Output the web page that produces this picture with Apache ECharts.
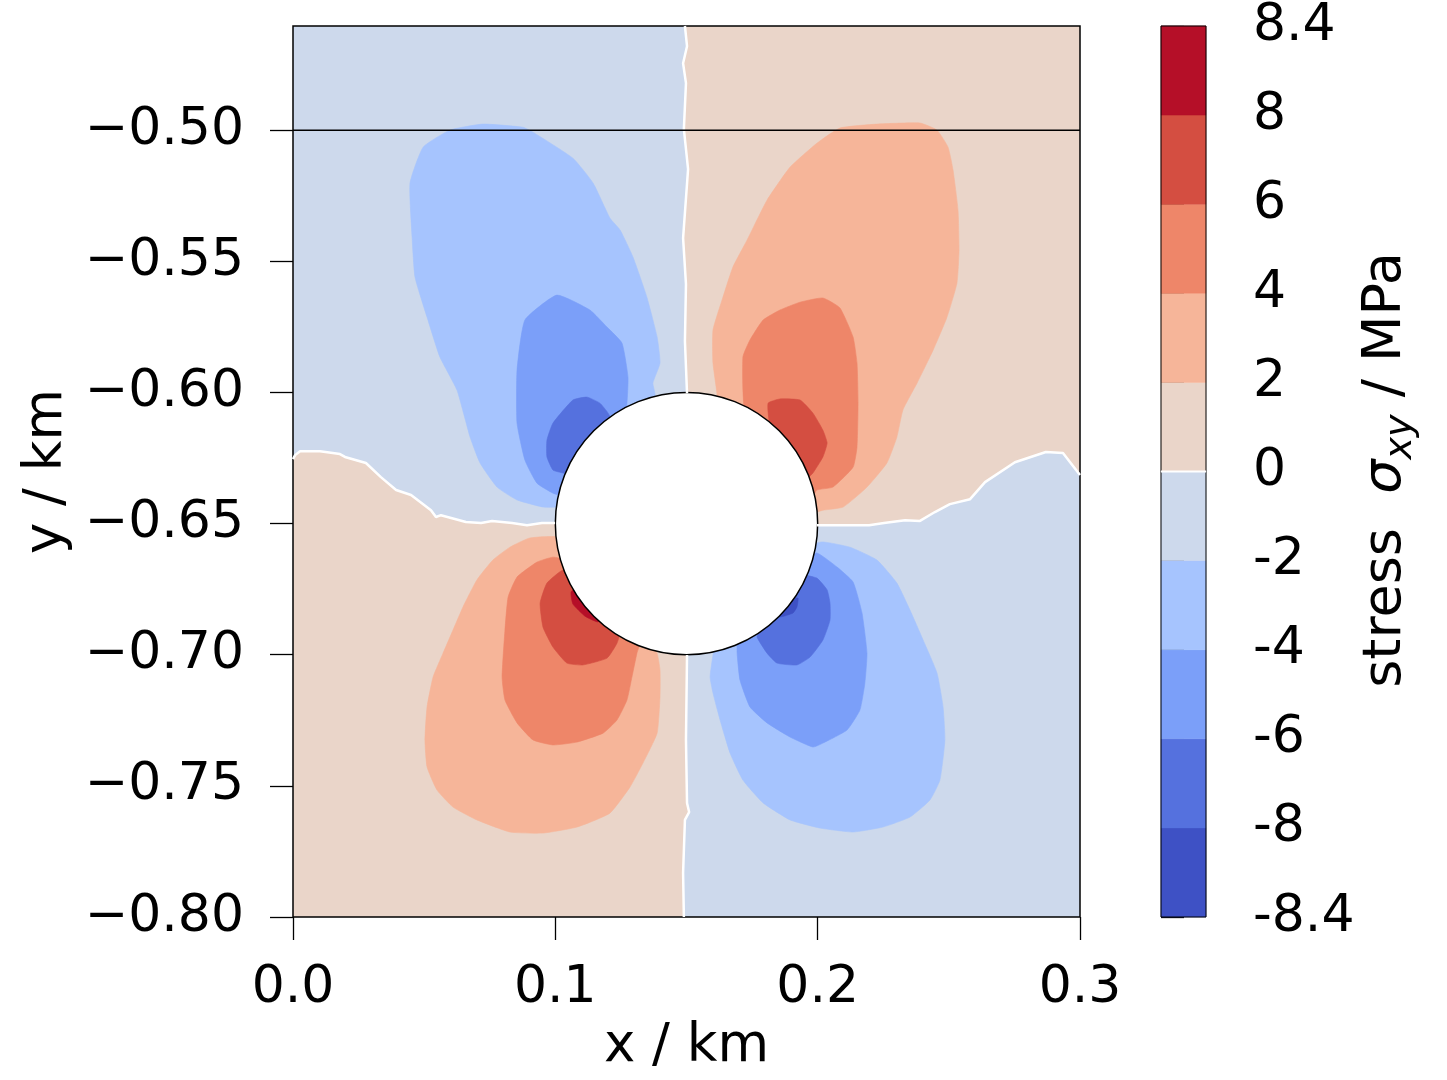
<!DOCTYPE html>
<html>
<head>
<meta charset="utf-8">
<script src="https://cdn.jsdelivr.net/npm/echarts@6/dist/echarts.min.js"></script>
<style>html,body{margin:0;padding:0;background:#fff}#chart{width:1447px;height:1080px}</style>
</head>
<body>
<div id="chart"></div>
<script>
// ---------- data (km, MPa) ----------
const X_RANGE = [0, 0.3];
const Y_RANGE = [-0.8, -0.4603];
const X_TICKS = [0, 0.1, 0.2, 0.3];
const Y_TICKS = [-0.8, -0.75, -0.7, -0.65, -0.6, -0.55, -0.5];
const LEVELS = [-8.4, -8, -6, -4, -2, 0, 2, 4, 6, 8, 8.4];
const CB_TICK_LABELS = ['-8.4', '-8', '-6', '-4', '-2', '0', '2', '4', '6', '8', '8.4'];
const LEVEL_COLORS = ['#3e51c5', '#5571de', '#7b9ff9', '#a6c4fe', '#cdd9ec', '#ead5c9', '#f6b599', '#ee8669', '#d44e41', '#b50f28'];
const HOLE = [0.15, -0.65, 0.05]; // centre x, centre y, radius
const MARKER_Y = -0.5;

// zero contours
const Z_TOP = [[0.1494,-0.4603],[0.1502,-0.4680],[0.1487,-0.4745],[0.1498,-0.4821],[0.1490,-0.4996],[0.1506,-0.5149],[0.1487,-0.5412],[0.1498,-0.5587],[0.1494,-0.5804],[0.1502,-0.6003]];
const Z_BOT = [[0.1502,-0.7001],[0.1498,-0.7325],[0.1502,-0.7565],[0.1510,-0.7600],[0.1494,-0.7630],[0.1487,-0.7832],[0.1490,-0.8000]];
const Z_LEFT = [[0,-0.6254],[0.0008,-0.6239],[0.0027,-0.6224],[0.0103,-0.6224],[0.0179,-0.6235],[0.0198,-0.6246],[0.0278,-0.6269],[0.0335,-0.6323],[0.0393,-0.6372],[0.0450,-0.6391],[0.0526,-0.6449],[0.0545,-0.6475],[0.0564,-0.6468],[0.0659,-0.6494],[0.0717,-0.6498],[0.0759,-0.6490],[0.0835,-0.6498],[0.0892,-0.6506],[0.0949,-0.6498],[0.0999,-0.6498]];
const Z_RIGHT = [[0.1997,-0.6506],[0.2100,-0.6506],[0.2196,-0.6506],[0.2253,-0.6498],[0.2333,-0.6487],[0.2390,-0.6490],[0.2447,-0.6456],[0.2504,-0.6426],[0.2581,-0.6407],[0.2638,-0.6342],[0.2752,-0.6266],[0.2870,-0.6227],[0.2935,-0.6231],[0.3000,-0.6315]];

// filled contour bands (outlines)
const LB_TL = [[0.0446,-0.5202],[0.0496,-0.5065],[0.0598,-0.5000],[0.0724,-0.4977],[0.0877,-0.4989],[0.0915,-0.5008],[0.1067,-0.5107],[0.1144,-0.5202],[0.1208,-0.5335],[0.1247,-0.5381],[0.1296,-0.5484],[0.1349,-0.5637],[0.1388,-0.5789],[0.1399,-0.5888],[0.1372,-0.5964],[0.1380,-0.6010],[0.1323,-0.6220],[0.1056,-0.6429],[0.1006,-0.6437],[0.0953,-0.6437],[0.0854,-0.6410],[0.0778,-0.6361],[0.0713,-0.6269],[0.0675,-0.6170],[0.0625,-0.5991],[0.0560,-0.5865],[0.0511,-0.5713],[0.0465,-0.5560],[0.0454,-0.5408]];
const MB_TL = [[0.1006,-0.5629],[0.1132,-0.5686],[0.1197,-0.5751],[0.1254,-0.5812],[0.1277,-0.5942],[0.1273,-0.6041],[0.1247,-0.6258],[0.1094,-0.6410],[0.1044,-0.6399],[0.0991,-0.6384],[0.0930,-0.6346],[0.0884,-0.6258],[0.0854,-0.6117],[0.0854,-0.5915],[0.0884,-0.5724]];
const DB_TL = [[0.1121,-0.6018],[0.1170,-0.6041],[0.1201,-0.6079],[0.1323,-0.6296],[0.1170,-0.6334],[0.1029,-0.6307],[0.0991,-0.6296],[0.0968,-0.6246],[0.0968,-0.6182],[0.0991,-0.6117],[0.1067,-0.6029]];
const SA_TR = [[0.1616,-0.6037],[0.1616,-0.6003],[0.1601,-0.5888],[0.1601,-0.5762],[0.1639,-0.5637],[0.1677,-0.5522],[0.1731,-0.5419],[0.1807,-0.5267],[0.1895,-0.5141],[0.1997,-0.5050],[0.2085,-0.4992],[0.2226,-0.4977],[0.2390,-0.4973],[0.2455,-0.5000],[0.2497,-0.5065],[0.2516,-0.5152],[0.2535,-0.5305],[0.2539,-0.5457],[0.2531,-0.5583],[0.2493,-0.5713],[0.2440,-0.5839],[0.2379,-0.5964],[0.2325,-0.6067],[0.2302,-0.6170],[0.2264,-0.6269],[0.2188,-0.6361],[0.2097,-0.6437],[0.2020,-0.6449],[0.1990,-0.6456],[0.1780,-0.6296],[0.1628,-0.6105]];
const MR_TR = [[0.1723,-0.6075],[0.1715,-0.5865],[0.1742,-0.5800],[0.1792,-0.5724],[0.1856,-0.5686],[0.1933,-0.5656],[0.2020,-0.5640],[0.2085,-0.5678],[0.2135,-0.5789],[0.2150,-0.5888],[0.2154,-0.6041],[0.2150,-0.6208],[0.2135,-0.6285],[0.2058,-0.6361],[0.1997,-0.6372],[0.1978,-0.6399],[0.1856,-0.6296]];
const DR_TR = [[0.1818,-0.6124],[0.1811,-0.6041],[0.1856,-0.6025],[0.1933,-0.6029],[0.1982,-0.6079],[0.2020,-0.6144],[0.2036,-0.6193],[0.2020,-0.6246],[0.1982,-0.6307],[0.1963,-0.6323],[0.1895,-0.6296]];
const SA_BL = [[0.1025,-0.6555],[0.0903,-0.6555],[0.0827,-0.6590],[0.0762,-0.6639],[0.0701,-0.6715],[0.0648,-0.6818],[0.0610,-0.6906],[0.0572,-0.6994],[0.0534,-0.7085],[0.0511,-0.7199],[0.0503,-0.7325],[0.0511,-0.7428],[0.0549,-0.7516],[0.0610,-0.7581],[0.0701,-0.7630],[0.0827,-0.7676],[0.0953,-0.7680],[0.1083,-0.7657],[0.1208,-0.7604],[0.1285,-0.7504],[0.1334,-0.7413],[0.1388,-0.7299],[0.1399,-0.7161],[0.1399,-0.7058],[0.1388,-0.6994],[0.1361,-0.6944]];
const MR_BL = [[0.1037,-0.6639],[0.0991,-0.6628],[0.0930,-0.6647],[0.0854,-0.6704],[0.0820,-0.6780],[0.0808,-0.6906],[0.0797,-0.7085],[0.0808,-0.7173],[0.0854,-0.7260],[0.0915,-0.7325],[0.0991,-0.7344],[0.1083,-0.7333],[0.1182,-0.7299],[0.1235,-0.7249],[0.1273,-0.7173],[0.1292,-0.7085],[0.1311,-0.6994],[0.1323,-0.6944]];
const DR_BL = [[0.1075,-0.6696],[0.1029,-0.6677],[0.0968,-0.6727],[0.0942,-0.6803],[0.0953,-0.6895],[0.0991,-0.6971],[0.1044,-0.7032],[0.1105,-0.7039],[0.1197,-0.7013],[0.1235,-0.6956],[0.1247,-0.6906]];
const XR_BL = [[0.1094,-0.6734],[0.1060,-0.6761],[0.1067,-0.6807],[0.1113,-0.6853],[0.1163,-0.6875],[0.1178,-0.6837]];
const LB_BR = [[0.1971,-0.6582],[0.2020,-0.6570],[0.2123,-0.6590],[0.2226,-0.6639],[0.2302,-0.6727],[0.2352,-0.6830],[0.2402,-0.6944],[0.2455,-0.7070],[0.2478,-0.7199],[0.2485,-0.7325],[0.2466,-0.7478],[0.2428,-0.7554],[0.2352,-0.7619],[0.2249,-0.7657],[0.2135,-0.7676],[0.2009,-0.7661],[0.1895,-0.7630],[0.1792,-0.7565],[0.1715,-0.7478],[0.1666,-0.7375],[0.1628,-0.7249],[0.1601,-0.7146],[0.1590,-0.7085],[0.1601,-0.7001],[0.1609,-0.6963]];
const MB_BR = [[0.1952,-0.6639],[0.1997,-0.6612],[0.2074,-0.6666],[0.2135,-0.6723],[0.2169,-0.6841],[0.2188,-0.6994],[0.2180,-0.7108],[0.2161,-0.7211],[0.2112,-0.7287],[0.2020,-0.7337],[0.1982,-0.7352],[0.1895,-0.7314],[0.1807,-0.7260],[0.1742,-0.7199],[0.1704,-0.7097],[0.1693,-0.6994],[0.1696,-0.6944]];
const DB_BR = [[0.1914,-0.6753],[0.1933,-0.6696],[0.1997,-0.6708],[0.2036,-0.6753],[0.2047,-0.6803],[0.2047,-0.6868],[0.2020,-0.6944],[0.1971,-0.7009],[0.1921,-0.7039],[0.1845,-0.7032],[0.1807,-0.6994],[0.1769,-0.6933],[0.1780,-0.6906]];
const XB_BR = [[0.1895,-0.6792],[0.1925,-0.6784],[0.1921,-0.6818],[0.1906,-0.6841],[0.1856,-0.6856],[0.1841,-0.6837]];

// ---------- assemble regions (painter order) ----------
const centre = [HOLE[0], HOLE[1]];
const NEG_TL = [[X_RANGE[0], Y_RANGE[1]]].concat(Z_TOP, [centre], Z_LEFT.slice().reverse());
const NEG_BR = Z_BOT.concat([[X_RANGE[1], Y_RANGE[0]]], Z_RIGHT.slice().reverse(), [centre]);
const REGIONS = [
  {level: 4, pts: NEG_TL, smooth: 0}, {level: 4, pts: NEG_BR, smooth: 0},
  {level: 3, pts: LB_TL}, {level: 2, pts: MB_TL}, {level: 1, pts: DB_TL},
  {level: 6, pts: SA_TR}, {level: 7, pts: MR_TR}, {level: 8, pts: DR_TR},
  {level: 6, pts: SA_BL}, {level: 7, pts: MR_BL}, {level: 8, pts: DR_BL}, {level: 9, pts: XR_BL},
  {level: 3, pts: LB_BR}, {level: 2, pts: MB_BR}, {level: 1, pts: DB_BR}, {level: 0, pts: XB_BR}
];

const FONT = 'DejaVu Sans';
const TICK_FS = 52;
const chart = echarts.init(document.getElementById('chart'), null, {renderer: 'canvas'});

function zeroLine(data) {
  return {type: 'line', xAxisIndex: 0, yAxisIndex: 0, data: data, symbol: 'none', silent: true,
    lineStyle: {color: '#ffffff', width: 2.5}, animation: false, clip: true};
}

const option = {
  animation: false,
  backgroundColor: '#ffffff',
  grid: [
    {left: 293, top: 26, width: 787, height: 891, show: true, backgroundColor: LEVEL_COLORS[5], borderWidth: 0},
    {left: 1161, top: 26, width: 45, height: 891, show: false}
  ],
  xAxis: [
    {gridIndex: 0, type: 'value', min: X_RANGE[0], max: X_RANGE[1], interval: 0.1,
      axisLine: {show: false}, splitLine: {show: false},
      axisTick: {show: true, inside: false, length: 23, customValues: X_TICKS, lineStyle: {color: '#000', width: 1.3}},
      axisLabel: {fontFamily: FONT, fontSize: TICK_FS, color: '#000', margin: 45, customValues: X_TICKS,
        formatter: v => v.toFixed(1)},
      name: 'x / km', nameLocation: 'middle', nameGap: 104,
      nameTextStyle: {fontFamily: FONT, fontSize: 53, color: '#000'}},
    {gridIndex: 1, type: 'value', min: 0, max: 1, show: false}
  ],
  yAxis: [
    {gridIndex: 0, type: 'value', min: Y_RANGE[0], max: Y_RANGE[1],
      axisLine: {show: false}, splitLine: {show: false},
      axisTick: {show: true, inside: false, length: 23, customValues: Y_TICKS, lineStyle: {color: '#000', width: 1.3}},
      axisLabel: {fontFamily: FONT, fontSize: TICK_FS, color: '#000', margin: 49, customValues: Y_TICKS,
        padding: [10, 0, 0, 0],
        formatter: v => (v < 0 ? '\u2212' : '') + Math.abs(v).toFixed(2)},
      name: 'y / km', nameLocation: 'middle', nameGap: 212, nameRotate: 90,
      nameTextStyle: {fontFamily: FONT, fontSize: 53, color: '#000'}},
    {gridIndex: 1, type: 'value', min: 0, max: LEVELS.length - 1, interval: 1, position: 'right',
      axisLine: {show: false}, splitLine: {show: false},
      axisTick: {show: true, inside: false, length: 23, lineStyle: {color: '#000', width: 1.3}},
      axisLabel: {fontFamily: FONT, fontSize: TICK_FS, color: '#000', margin: 47, padding: [10, 0, 0, 0],
        formatter: v => CB_TICK_LABELS[Math.round(v)]}}
  ],
  graphic: [{
    type: 'text', x: 1386, y: 470, rotation: Math.PI / 2, silent: true,
    style: {
      text: '{n|stress  }{s|σ}{sub|xy}{n| / MPa}',
      align: 'center', verticalAlign: 'middle', fill: '#000',
      fontFamily: FONT, fontSize: 54,
      rich: {
        n: {fontFamily: FONT, fontSize: 54, lineHeight: 68, fill: '#000'},
        s: {fontFamily: FONT, fontSize: 54, lineHeight: 68, fontStyle: 'italic', fill: '#000'},
        sub: {fontFamily: FONT, fontSize: 38, lineHeight: 38, fontStyle: 'italic', verticalAlign: 'bottom', fill: '#000'}
      }
    }
  }],
  series: [
    {type: 'custom', coordinateSystem: 'cartesian2d', xAxisIndex: 0, yAxisIndex: 0, silent: true, clip: true,
      data: REGIONS.map(r => [r.pts[0][0], r.pts[0][1]]),
      renderItem: (params, api) => {
        const r = REGIONS[params.dataIndex];
        return {type: 'polygon',
          shape: {points: r.pts.map(p => api.coord(p)), smooth: r.smooth === 0 ? 0 : 0.15},
          style: {fill: LEVEL_COLORS[r.level], stroke: LEVEL_COLORS[r.level], lineWidth: 0.6}};
      }},
    zeroLine(Z_TOP), zeroLine(Z_BOT), zeroLine(Z_LEFT), zeroLine(Z_RIGHT),
    {type: 'line', xAxisIndex: 0, yAxisIndex: 0, data: [[X_RANGE[0], MARKER_Y], [X_RANGE[1], MARKER_Y]],
      symbol: 'none', silent: true, lineStyle: {color: '#000', width: 1.5}},
    {type: 'custom', coordinateSystem: 'cartesian2d', xAxisIndex: 0, yAxisIndex: 0, silent: true,
      data: [HOLE],
      renderItem: (params, api) => {
        const c = api.coord([api.value(0), api.value(1)]);
        const e = api.coord([api.value(0) + api.value(2), api.value(1)]);
        return {type: 'circle', shape: {cx: c[0], cy: c[1], r: e[0] - c[0]},
          style: {fill: '#ffffff', stroke: '#000', lineWidth: 1.5}};
      }},
    // main frame
    {type: 'custom', coordinateSystem: 'cartesian2d', xAxisIndex: 0, yAxisIndex: 0, silent: true,
      data: [[X_RANGE[0], Y_RANGE[0], X_RANGE[1], Y_RANGE[1]]],
      renderItem: (params, api) => {
        const a = api.coord([api.value(0), api.value(1)]);
        const b = api.coord([api.value(2), api.value(3)]);
        return {type: 'rect', shape: {x: a[0], y: b[1], width: b[0] - a[0], height: a[1] - b[1]},
          style: {fill: 'none', stroke: '#000', lineWidth: 1.5}};
      }},
    // colorbar
    {type: 'custom', coordinateSystem: 'cartesian2d', xAxisIndex: 1, yAxisIndex: 1, silent: true,
      data: LEVEL_COLORS.map((c, i) => [0, i]),
      renderItem: (params, api) => {
        const i = api.value(1);
        const a = api.coord([0, i]);
        const b = api.coord([1, i + 1]);
        return {type: 'rect', shape: {x: a[0], y: b[1], width: b[0] - a[0], height: a[1] - b[1]},
          style: {fill: LEVEL_COLORS[i], stroke: LEVEL_COLORS[i], lineWidth: 0.5}};
      }},
    {type: 'line', xAxisIndex: 1, yAxisIndex: 1, data: [[0, LEVELS.indexOf(0)], [1, LEVELS.indexOf(0)]],
      symbol: 'none', silent: true, lineStyle: {color: '#ffffff', width: 2}},
    {type: 'custom', coordinateSystem: 'cartesian2d', xAxisIndex: 1, yAxisIndex: 1, silent: true,
      data: [[0, 0, 1, LEVELS.length - 1]],
      renderItem: (params, api) => {
        const a = api.coord([api.value(0), api.value(1)]);
        const b = api.coord([api.value(2), api.value(3)]);
        return {type: 'rect', shape: {x: a[0], y: b[1], width: b[0] - a[0], height: a[1] - b[1]},
          style: {fill: 'none', stroke: '#000', lineWidth: 1}};
      }}
  ]
};
chart.setOption(option);
</script>
</body>
</html>
